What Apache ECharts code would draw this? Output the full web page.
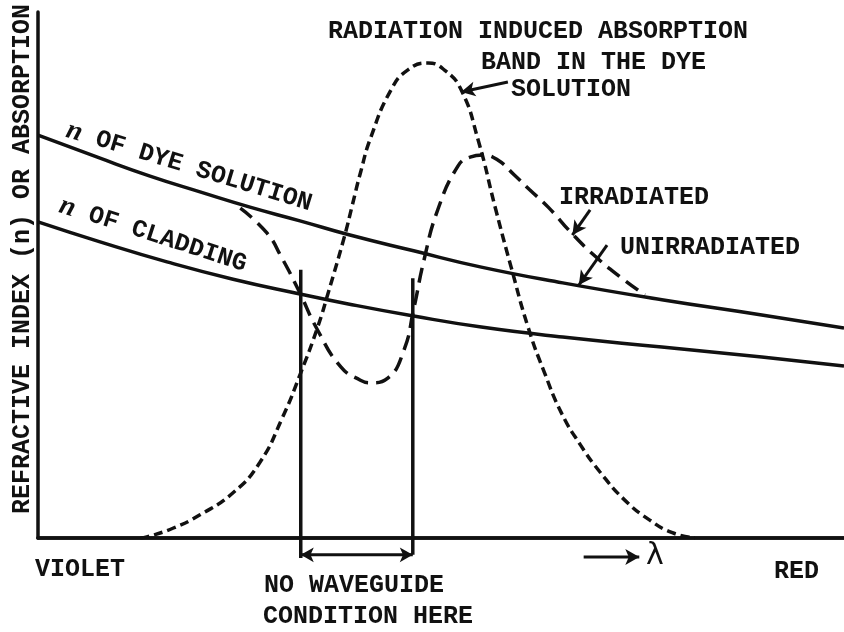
<!DOCTYPE html>
<html><head><meta charset="utf-8">
<script src="https://cdn.jsdelivr.net/npm/echarts@6/dist/echarts.min.js"></script>
<style>html,body{margin:0;padding:0;background:#fff}#c{width:844px;height:632px}</style>
</head><body><div id="c"></div>
<script>
// wavelength axis: 0 = violet end, 100 = red end; vertical: 0 = baseline, 100 = top
const dyeX  = [0, 7.7, 13.9, 20.1, 26.3, 32.5, 38.7, 46.6, 55.0, 65.1, 77.4, 89.8, 100];
const dyeY  = [76.6, 72.2, 68.8, 65.8, 62.9, 60.3, 57.6, 54.6, 51.5, 48.5, 45.3, 42.4, 39.9];
const cladX = [0, 7.7, 16.0, 24.2, 32.5, 38.5, 46.6, 55.0, 65.1, 77.4, 89.8, 100];
const cladY = [60.1, 56.3, 52.5, 49.2, 46.4, 44.5, 42.2, 40.1, 38.2, 36.3, 34.4, 32.7];
const bandX = [12.7, 13.5, 16.8, 20.1, 24.2, 27.5, 30.3, 32.6, 34.7, 36.0, 38.0, 39.0, 40.0, 41.3, 43.8, 45.9, 48.4, 50.4, 52.5, 54.6, 56.8, 58.7, 60.8, 62.8, 65.0, 67.3, 69.7, 72.8, 75.9, 78.7, 81.5];
const bandY = [0, 0.2, 1.9, 4.4, 8.6, 14.3, 22.8, 31.4, 40.1, 46.6, 57.2, 63.3, 69.4, 76.2, 85.2, 89.0, 90.3, 89.0, 85.2, 75.7, 62.4, 51.5, 40.1, 31.6, 23.6, 17.7, 12.6, 7.2, 3.4, 1.0, 0];
const irrX  = [25.1, 28.4, 30.2, 32.3, 34.7, 37.6, 40.0, 41.3, 43.4, 45.4, 46.6, 47.9, 49.6, 52.1, 53.6, 55.2, 57.0, 59.1, 61.0, 63.3, 66.3, 69.1, 72.1, 75.3];
const irrY  = [62.7, 58.0, 53.4, 47.2, 39.5, 32.5, 30.0, 29.5, 30.4, 35.7, 43.4, 52.9, 62.4, 70.7, 72.4, 72.8, 71.9, 69.0, 66.2, 62.9, 57.8, 53.6, 49.8, 46.2];
const guideX = [32.6, 46.5];
const guideTop = [51.0, 49.4];
const guideBottom = [-3.8, -3.2];
const spanY = -3.2;
const lambdaArrowX = [67.7, 74.6];
const lambdaArrowY = -3.6;
// annotation arrows [fromX, fromY, toX, toY]
const arrowSolution = [58.3, 86.7, 52.5, 84.8];
const arrowIrr = [68.5, 62.4, 66.3, 57.6];
const arrowUnirr = [70.6, 55.7, 67.1, 48.1];

const zip = (a, b) => a.map((v, i) => [v, b[i]]);
const INK = '#111';
const W = 3.5;
const FONT = '"Liberation Mono", "DejaVu Sans Mono", monospace';

function arrowLine(a) {
  return [{ coord: [a[0], a[1]] }, { coord: [a[2], a[3]] }];
}

const chart = echarts.init(document.getElementById('c'), null, { renderer: 'canvas' });

const txt = (text, x, y, extra) => Object.assign({
  type: 'text', x: x, y: y, silent: true,
  style: Object.assign({ text: text, fill: INK, fontFamily: FONT, fontWeight: 'bold', fontSize: 25,
    textAlign: 'left', textVerticalAlign: 'middle' }, (extra && extra.style) || {})
}, extra ? { rotation: extra.rotation || 0 } : {});

const rich = { i: { fontStyle: 'italic', fontFamily: '"Liberation Serif", serif', fontWeight: 'bold', fontSize: 28, fill: INK } };

chart.setOption({
  animation: false,
  backgroundColor: '#fff',
  grid: { left: 38, right: 0, top: 12, bottom: 94 },
  xAxis: [
    { type: 'value', min: 0, max: 100, axisLine: { show: true, onZero: false, lineStyle: { color: INK, width: W } },
      axisTick: { show: false }, axisLabel: { show: false }, splitLine: { show: false } },
    { type: 'value', position: 'top', min: 0, max: 100, axisLine: { show: true, lineStyle: { color: INK, width: W } },
      axisTick: { show: false }, axisLabel: { show: false }, splitLine: { show: false } }
  ],
  yAxis: { type: 'value', min: 0, max: 100, axisLine: { show: true, lineStyle: { color: INK, width: W } },
    axisTick: { show: false }, axisLabel: { show: false }, splitLine: { show: false } },
  series: [
    { type: 'line', name: 'n of dye solution', data: zip(dyeX, dyeY), smooth: true, symbol: 'none',
      lineStyle: { color: INK, width: W }, silent: true,
      markLine: { silent: true, symbol: ['none', 'arrow'], symbolSize: [11, 14], label: { show: false },
        lineStyle: { color: INK, width: 3, type: 'solid' },
        data: [arrowLine(arrowSolution), arrowLine(arrowIrr), arrowLine(arrowUnirr)] } },
    { type: 'line', name: 'n of cladding', data: zip(cladX, cladY), smooth: true, symbol: 'none',
      lineStyle: { color: INK, width: W }, silent: true },
    { type: 'line', name: 'absorption band', data: zip(bandX, bandY), smooth: true, symbol: 'none',
      lineStyle: { color: INK, width: W, type: [9, 5] }, silent: true },
    { type: 'line', name: 'irradiated', data: zip(irrX, irrY), smooth: true, symbol: 'none',
      lineStyle: { color: INK, width: W, type: [15, 8] }, silent: true },
    { type: 'line', name: 'guide left', data: [[guideX[0], guideTop[0]], [guideX[0], guideBottom[0]]], symbol: 'none',
      clip: false, lineStyle: { color: INK, width: W }, silent: true },
    { type: 'line', name: 'guide right', data: [[guideX[1], guideTop[1]], [guideX[1], guideBottom[1]]], symbol: 'none',
      clip: false, lineStyle: { color: INK, width: W }, silent: true },
    { type: 'line', name: 'span', clip: false, silent: true, symbol: 'none', showSymbol: true,
      lineStyle: { color: INK, width: 3 }, itemStyle: { color: INK },
      data: [ { value: [guideX[0], spanY], symbol: 'arrow', symbolRotate: 90, symbolSize: [11, 13] },
              { value: [guideX[1], spanY], symbol: 'arrow', symbolRotate: -90, symbolSize: [11, 13] } ] },
    { type: 'line', name: 'lambda', clip: false, silent: true, symbol: 'none', showSymbol: true,
      lineStyle: { color: INK, width: 3 }, itemStyle: { color: INK },
      data: [ { value: [lambdaArrowX[0], lambdaArrowY], symbol: 'none' },
              { value: [lambdaArrowX[1], lambdaArrowY], symbol: 'arrow', symbolRotate: -90, symbolSize: [12, 14] } ] }
  ],
  graphic: { elements: [
    txt('REFRACTIVE INDEX (n) OR ABSORPTION', 23, 259, { rotation: Math.PI / 2, style: { textAlign: 'center' } }),
    txt('RADIATION INDUCED ABSORPTION', 328, 32),
    txt('BAND IN THE DYE', 481, 63),
    txt('SOLUTION', 511, 90),
    txt('IRRADIATED', 559, 198),
    txt('UNIRRADIATED', 620, 248),
    txt('VIOLET', 35, 570),
    txt('RED', 774, 572),
    txt('NO WAVEGUIDE', 264, 586),
    txt('CONDITION HERE', 263, 617),
    txt('λ', 646, 556, { style: { fontFamily: '"DejaVu Sans", sans-serif', fontWeight: 'normal', fontSize: 30 } }),
    txt('{i|n} OF DYE SOLUTION', 189, 167, { rotation: -17 * Math.PI / 180, style: { textAlign: 'center', rich: rich } }),
    txt('{i|n} OF CLADDING', 153, 235, { rotation: -18 * Math.PI / 180, style: { textAlign: 'center', rich: rich } })
  ] }
});
</script></body></html>
